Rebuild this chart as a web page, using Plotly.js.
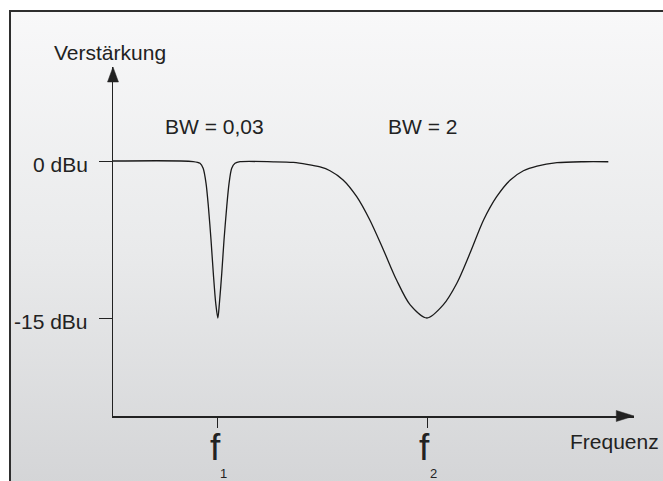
<!DOCTYPE html>
<html>
<head>
<meta charset="utf-8">
<script src="https://cdn.plot.ly/plotly-3.0.1.min.js"></script>
<style>
  html, body { margin: 0; padding: 0; background: #ffffff; overflow: hidden; }
  #frame {
    position: absolute; left: 9px; top: 10px; width: 700px; height: 520px;
    border-left: 2px solid #2e2e2e; border-top: 2px solid #2e2e2e;
    background: linear-gradient(to bottom, #f8f8f9 0px, #e9eaeb 240px, #d4d5d7 471px);
  }
  #chart { position: absolute; left: 0; top: 0; width: 663px; height: 481px; }
</style>
</head>
<body>
<div id="frame"></div>
<div id="chart"></div>
<script>
// Frequency (arbitrary units, f1 = 2, f2 = 6) and gain in dBu
const freq = [0, 1.53, 1.66, 1.72, 1.775, 1.82, 1.87, 1.914, 1.96, 2.0, 2.03, 2.075, 2.118, 2.17, 2.214, 2.265, 2.328, 2.424,
              3.06, 3.44, 3.70, 3.95, 4.14, 4.39, 4.65, 4.90, 5.16, 5.41, 5.67, 5.99, 6.30, 6.56, 6.81, 7.07, 7.32, 7.58, 7.83, 8.09, 8.47, 8.98, 9.45];
const gain = [0, -0.05, -0.22, -0.70, -2.13, -4.36, -7.55, -10.73, -13.59, -15.0, -13.59, -10.73, -7.55, -4.36, -2.13, -0.70, -0.22, -0.07,
              -0.08, -0.14, -0.32, -0.57, -0.93, -1.81, -3.41, -5.64, -8.50, -11.37, -13.75, -15.0, -13.75, -11.68, -8.82, -5.64, -3.41, -1.81, -0.93, -0.48, -0.16, -0.07, -0.07];

const yTickVals = [0, -15];
const yTickText = ['0 dBu', '-15 dBu'];
const xTickVals = [2, 6];
const xTickText = ['f', 'f'];
const xSubText = ['1', '2'];
const bwLabels = ['BW = 0,03', 'BW = 2'];
const bwX = [1.927, 5.896];

const FONT = 'Liberation Sans, Arial, sans-serif';
const INK = '#222222';

const annotations = [
  {text: 'Verstärkung', xref: 'paper', yref: 'paper', x: -0.006, y: 1.0415, xanchor: 'center', yanchor: 'middle', showarrow: false, font: {family: FONT, size: 21, color: INK}},
  {text: 'Frequenz', xref: 'paper', yref: 'paper', x: 0.9626, y: -0.072, xanchor: 'center', yanchor: 'middle', showarrow: false, font: {family: FONT, size: 21, color: INK}}
];
bwLabels.forEach((t, i) => annotations.push({
  text: t, xref: 'x', yref: 'y', x: bwX[i], y: 3.3, xanchor: 'center', yanchor: 'middle', showarrow: false,
  font: {family: FONT, size: 21, color: INK}
}));
yTickText.forEach((t, i) => annotations.push({
  text: t, xref: 'paper', yref: 'y', x: -0.044, y: yTickVals[i], yshift: -3, xanchor: 'right', yanchor: 'middle', showarrow: false,
  font: {family: FONT, size: 21, color: INK}
}));
xTickText.forEach((t, i) => annotations.push({
  text: t, xref: 'x', yref: 'paper', x: xTickVals[i] - 0.05, y: -0.0903, xanchor: 'center', yanchor: 'middle', showarrow: false,
  font: {family: FONT, size: 37, color: INK}
}));
xSubText.forEach((t, i) => annotations.push({
  text: t, xref: 'x', yref: 'paper', x: xTickVals[i] + 0.11, y: -0.1648, xanchor: 'center', yanchor: 'middle', showarrow: false,
  font: {family: FONT, size: 13, color: INK}
}));

const shapes = [
  // arrow head on the y axis
  {type: 'path', xref: 'paper', yref: 'paper', path: 'M -0.0105,0.957 L 0,1.0 L 0.0105,0.957 Z', fillcolor: INK, line: {color: INK, width: 0.5}},
  // arrow head on the x axis
  {type: 'path', xref: 'paper', yref: 'paper', path: 'M 0.966,0.0158 L 1.0,0 L 0.966,-0.0158 Z', fillcolor: INK, line: {color: INK, width: 0.5}}
];

const data = [{
  x: freq, y: gain, type: 'scatter', mode: 'lines',
  line: {color: '#1a1a1a', width: 1.3, shape: 'spline', smoothing: 0.8},
  hoverinfo: 'skip', cliponaxis: false
}];

const layout = {
  width: 663, height: 481,
  margin: {l: 113, r: 29, t: 67, b: 65, pad: 0},
  paper_bgcolor: 'rgba(0,0,0,0)', plot_bgcolor: 'rgba(0,0,0,0)',
  showlegend: false,
  font: {family: FONT, size: 21, color: INK},
  xaxis: {
    range: [0, 9.94], showgrid: false, zeroline: false,
    showline: true, linecolor: INK, linewidth: 1.5,
    ticks: 'outside', ticklen: 10, tickwidth: 1, tickcolor: INK,
    tickvals: xTickVals, showticklabels: false
  },
  yaxis: {
    range: [-24.36, 8.98], showgrid: false, zeroline: false,
    showline: true, linecolor: INK, linewidth: 1.5,
    ticks: 'outside', ticklen: 13, tickwidth: 1, tickcolor: INK,
    tickvals: yTickVals, showticklabels: false
  },
  annotations: annotations,
  shapes: shapes
};

Plotly.newPlot('chart', data, layout, {staticPlot: true, displayModeBar: false});
</script>
</body>
</html>
